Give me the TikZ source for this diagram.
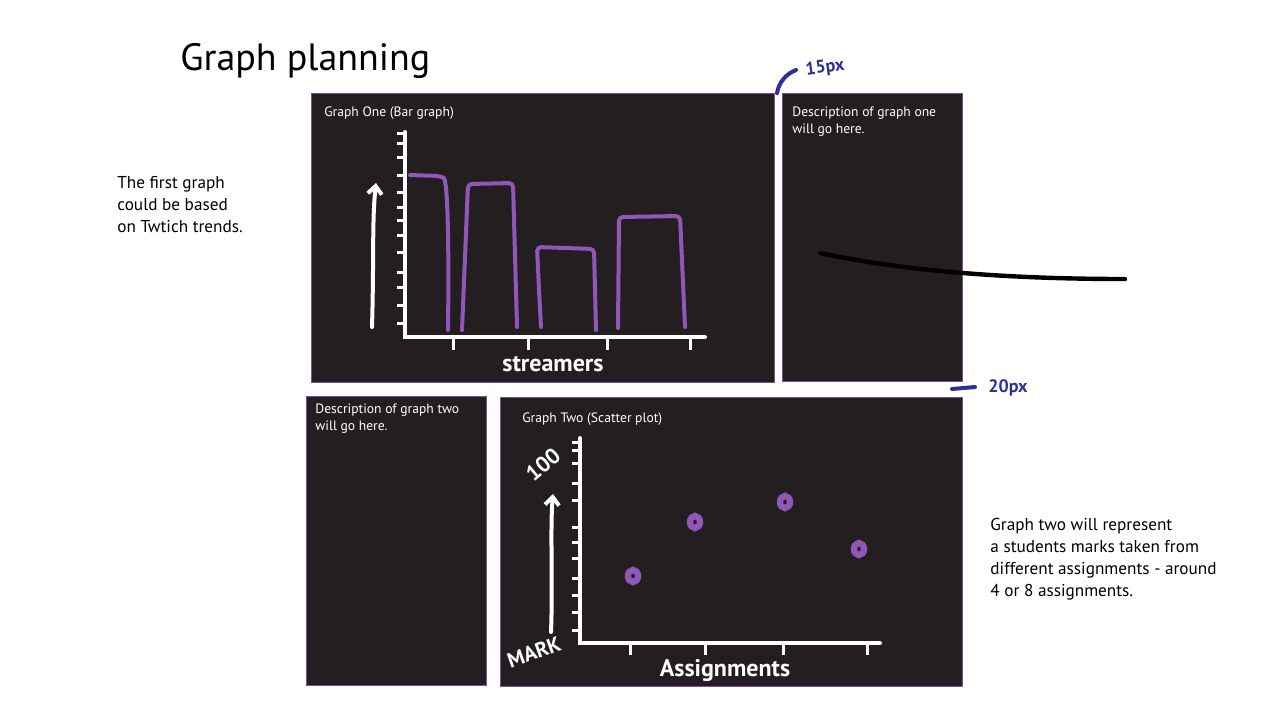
\documentclass[tikz,border=0pt]{standalone}
\usepackage{fontspec}
\setmainfont{PT Sans}
\usetikzlibrary{arrows.meta}
\definecolor{panelfill}{HTML}{231F20}
\definecolor{panelline}{HTML}{7B4FA0}
\definecolor{barpurple}{HTML}{8E57B8}
\definecolor{penblue}{HTML}{2E3192}
\begin{document}
\begin{tikzpicture}[
  x=0.5pt, y=-0.5pt,
  panel/.style={draw=panelline, line width=0.6pt, fill=panelfill, anchor=north west, inner sep=0pt},
  paneltext/.style={text=white, font=\fontsize{6.8}{8.5}\selectfont, align=left, anchor=north west, inner sep=0pt},
  note/.style={font=\fontsize{8.6}{11}\selectfont, align=left, anchor=north west, inner sep=0pt},
  chalk/.style={white, line width=2pt, line cap=round},
  tick/.style={white, line width=1.5pt},
  bar/.style={barpurple, line width=2pt, line cap=round, line join=round, rounded corners=2pt},
  dotring/.style={barpurple, line width=3.2pt},
  hand/.style={text=white, font=\fontsize{12}{12}\bfseries\selectfont, inner sep=0pt},
  pen/.style={penblue, line width=2pt, line cap=round},
  pentext/.style={text=penblue, font=\fontsize{9}{9}\bfseries\selectfont, inner sep=0pt},
  >={Straight Barb[length=4pt, width=7pt]}
]
\useasboundingbox (0,0) rectangle (1280,720);
\fill[white] (0,0) rectangle (1280,720);

% title and side notes
\node[anchor=north west, inner sep=0pt, font=\fontsize{19}{22}\selectfont] (title) at (180,43) {Graph planning};
\node[note] (noteone) at (117,176) {The first graph\\could be based\\on Twtich trends.};
\node[note] (notetwo) at (990,518) {Graph two will represent\\a students marks taken from\\different assignments - around\\4 or 8 assignments.};

% panels
\node[panel, minimum width=231.5pt, minimum height=144.5pt] (g1) at (311,93) {};
\node[panel, minimum width=90pt, minimum height=144pt] (d1) at (782,93) {};
\node[panel, minimum width=90pt, minimum height=144.5pt] (d2) at (306,396) {};
\node[panel, minimum width=231pt, minimum height=144.5pt] (g2) at (500,397) {};

\node[paneltext] (g1title) at (324,106) {Graph One (Bar graph)};
\node[paneltext] (d1text) at (792,106) {Description of graph one\\will go here.};
\node[paneltext] (d2text) at (315,403) {Description of graph two\\will go here.};
\node[paneltext] (g2title) at (522,412) {Graph Two (Scatter plot)};

% bar graph sketch
\draw[chalk] (405,132) -- (405,337) -- (705,337);
\foreach \ty in {133,143,157,175,192,207,220,235,252,272,287,305,323}
  \draw[tick] (397,\ty) -- (405,\ty);
\foreach \tx in {453,528,607,690}
  \draw[tick] (\tx,337) -- (\tx,350);
\draw[chalk, ->] (372,327) .. controls (374,260) and (372,220) .. (376,183);
\draw[bar] (410,175) -- (440,176) .. controls (448,180) and (449,250) .. (448,330);
\draw[bar] (462,330) -- (468,184) -- (513,183) -- (517,327);
\draw[bar] (541,327) .. controls (539,290) .. (537,247) -- (594,249) -- (596,330);
\draw[bar] (618,328) -- (619,217) -- (680,216) -- (685,327);
\node[hand] (streamers) at (553,364) {streamers};

% scatter plot sketch
\draw[chalk] (580,438) -- (580,643) -- (880,643);
\foreach \ty in {442,450,463,483,500,527,542,558,578,595,612,630}
  \draw[tick] (572,\ty) -- (580,\ty);
\foreach \tx in {630,705,783,867}
  \draw[tick] (\tx,643) -- (\tx,655);
\draw[chalk, ->] (551,632) .. controls (553,580) and (550,530) .. (553,494);
\foreach \px/\py in {633/576, 695/522, 785/502, 859/549}
  \draw[dotring] (\px,\py) ellipse (5 and 6);
\node[hand, rotate=40, font=\fontsize{11}{11}\bfseries\selectfont] (hundred) at (543,465) {100};
\node[hand, rotate=20, font=\fontsize{10.5}{11}\bfseries\selectfont] (markaxis) at (534,652) {MARK};
\node[hand] (assign) at (725,670) {Assignments};

% spacing notes
\draw[pen] (777,93) .. controls (779,82) and (786,74) .. (796,70);
\node[pentext, rotate=8] (gapone) at (825,68) {15px};
\draw[pen] (952,389) -- (975,387);
\node[pentext] (gaptwo) at (1008,388) {20px};

% stray stroke
\draw[black, line width=2.2pt, line cap=round] (820,253) .. controls (900,270) and (1000,279) .. (1125,279);
\end{tikzpicture}
\end{document}
